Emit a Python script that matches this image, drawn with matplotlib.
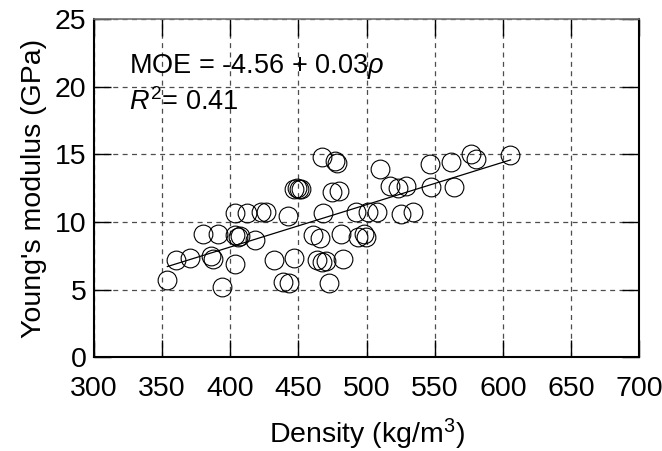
import matplotlib
matplotlib.use("Agg")
import matplotlib.pyplot as plt

plt.rcParams['font.family'] = ['Liberation Sans', 'DejaVu Sans']
plt.rcParams['mathtext.fontset'] = 'custom'
plt.rcParams['mathtext.rm'] = 'Liberation Sans'
plt.rcParams['mathtext.it'] = 'Liberation Sans:italic'

# density (kg/m3) and MOE (GPa)
density = [354, 360, 370.5, 386, 387.5, 380, 391, 394, 403.5, 403.5,
           405.5, 407, 418.5, 403.5, 412.5, 422.5, 426, 432, 438.5, 443,
           442.5, 447, 447, 448.7, 450.5, 452, 467.2, 477, 478.6, 474.5,
           479.6, 468, 461, 466, 481.5, 464, 467.6, 470.2, 483, 472.3,
           492, 501.3, 508, 494, 498.2, 499.4, 509.6, 517, 523.3, 528.7,
           525, 534, 546.5, 547.4, 561.6, 564, 576.2, 580.3, 605]
moe = [5.7, 7.2, 7.3, 7.45, 7.25, 9.1, 9.1, 5.2, 6.9, 9.05,
       8.9, 8.95, 8.68, 10.65, 10.7, 10.75, 10.75, 7.2, 5.57, 5.47,
       10.45, 7.35, 12.47, 12.55, 12.42, 12.47, 14.78, 14.5, 14.38, 12.25,
       12.28, 10.7, 9.04, 8.8, 9.1, 7.2, 7.05, 7.12, 7.25, 5.45,
       10.72, 10.77, 10.77, 8.92, 9.12, 8.87, 13.95, 12.67, 12.5, 12.67,
       10.6, 10.75, 14.31, 12.6, 14.44, 12.6, 15.05, 14.68, 14.93]

# fitted line end points as drawn
fit_x = [354, 605.5]
fit_y = [6.7, 14.6]

x_ticks = [300, 350, 400, 450, 500, 550, 600, 650, 700]
y_ticks = [0, 5, 10, 15, 20, 25]

fig = plt.figure(figsize=(6.62, 4.51), dpi=100)
ax = fig.add_axes([0.1415, 0.2084, 0.8245, 0.7484])

ax.plot(density, moe, 'o', ms=13.5, mfc='none', mec='black', mew=0.8, zorder=3)
ax.plot(fit_x, fit_y, color='black', lw=0.9, zorder=4)

ax.set_xlim(300, 700)
ax.set_ylim(0, 25)
ax.set_xticks(x_ticks)
ax.set_yticks(y_ticks)
ax.grid(True, color='0.3', lw=0.9, linestyle=(0, (4, 3.5)))
ax.set_axisbelow(True)

ax.tick_params(axis='both', direction='in', length=12, width=1,
               top=True, right=True, labelsize=20.5)
ax.tick_params(axis='x', pad=14)
ax.tick_params(axis='y', pad=5)

for side in ['left', 'bottom', 'right']:
    ax.spines[side].set_linewidth(1.5)
ax.spines['top'].set_linewidth(1.2)
ax.spines['top'].set_color('0.45')

ax.set_xlabel(r'Density (kg/m$^{3}$)', fontsize=20.5, labelpad=10)
ax.set_ylabel("Young's modulus (GPa)", fontsize=20.5, labelpad=6)

ax.text(326, 21.0, r'MOE = -4.56 + 0.03$\rho$', fontsize=19.5, va='baseline')
ax.text(326, 18.27, r'$R^{2}$= 0.41', fontsize=19.5, va='baseline')

fig.savefig('out.png', dpi=100)
